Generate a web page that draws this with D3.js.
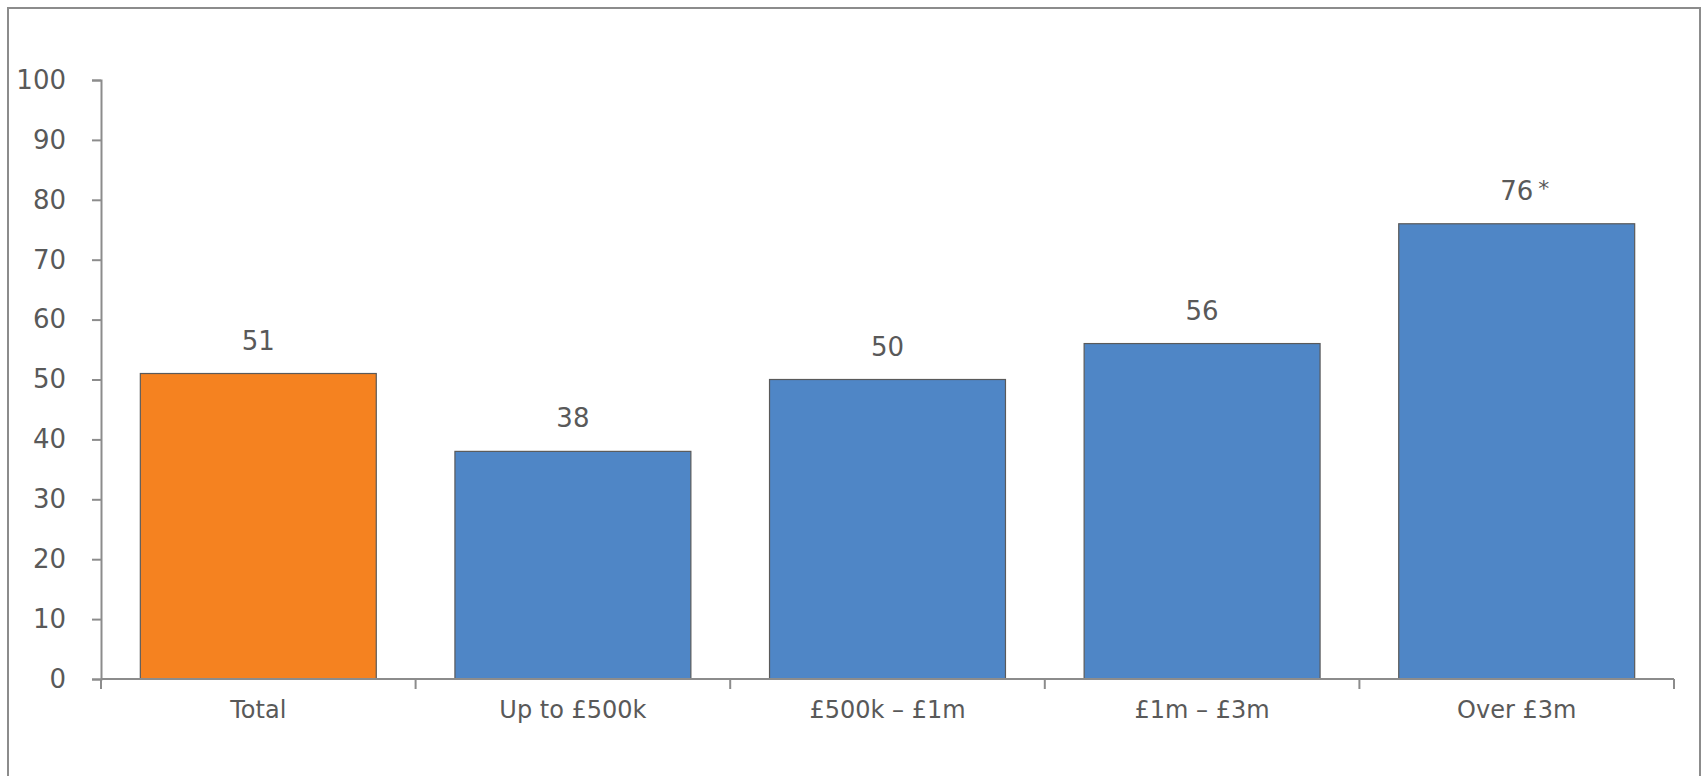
<!DOCTYPE html>
<html>
<head>
<meta charset="utf-8">
<script src="https://cdn.jsdelivr.net/npm/d3@7"></script>
<style>
  html, body { margin: 0; padding: 0; background: #fff; }
  svg { display: block; }
  text { font-family: "DejaVu Sans", sans-serif; fill: #595959; }
</style>
</head>
<body>
<svg id="chart" width="1703" height="776"></svg>
<script>
// Survey share by turnover band (%)
const categories = ["Total", "Up to £500k", "£500k – £1m", "£1m – £3m", "Over £3m"];
const values = [51, 38, 50, 56, 76];
const valueNotes = ["", "", "", "", "*"];
const barColors = ["#F58220", "#4F86C6", "#4F86C6", "#4F86C6", "#4F86C6"];
const yTicks = [0, 10, 20, 30, 40, 50, 60, 70, 80, 90, 100];

const svg = d3.select("#chart");

// outer frame
svg.append("rect")
  .attr("x", 8).attr("y", 8)
  .attr("width", 1692).attr("height", 800)
  .attr("fill", "none").attr("stroke", "#8c8c8c").attr("stroke-width", 2);

const x0 = 101, x1 = 1674, yBase = 679, yTop = 80;

const x = d3.scaleBand()
  .domain(categories)
  .range([x0, x1])
  .paddingInner(0.25)
  .paddingOuter(0.125);

const y = d3.scaleLinear().domain([0, 100]).range([yBase, yTop]);

// y axis
const yAxis = d3.axisLeft(y).tickValues(yTicks).tickSize(9).tickPadding(26).tickFormat(d3.format("d"));
const gy = svg.append("g").attr("transform", `translate(${x0},0)`).call(yAxis);
gy.select(".domain").attr("stroke", "#8c8c8c").attr("stroke-width", 2);
gy.selectAll(".tick line").attr("stroke", "#8c8c8c").attr("stroke-width", 2);
gy.selectAll(".tick text")
  .attr("font-size", 26).attr("fill", "#595959")
  .style("font-family", "'DejaVu Sans', sans-serif");

// bars
svg.append("g").selectAll("rect")
  .data(values)
  .join("rect")
  .attr("x", (d, i) => x(categories[i]))
  .attr("y", d => y(d))
  .attr("width", x.bandwidth())
  .attr("height", d => y(0) - y(d))
  .attr("fill", (d, i) => barColors[i])
  .attr("stroke", "#5a5a5a")
  .attr("stroke-width", 1.2);

// x axis with ticks on category boundaries
const step = x.step();
const boundaries = d3.range(categories.length + 1).map(i => x0 + i * step);
const gx = svg.append("g");
gx.append("line")
  .attr("x1", x0).attr("x2", x1).attr("y1", yBase).attr("y2", yBase)
  .attr("stroke", "#8c8c8c").attr("stroke-width", 2);
gx.selectAll("line.bt")
  .data(boundaries)
  .join("line")
  .attr("class", "bt")
  .attr("x1", d => d).attr("x2", d => d)
  .attr("y1", yBase).attr("y2", yBase + 10)
  .attr("stroke", "#8c8c8c").attr("stroke-width", 2);
gx.selectAll("text")
  .data(categories)
  .join("text")
  .attr("x", d => x(d) + x.bandwidth() / 2)
  .attr("y", 718)
  .attr("text-anchor", "middle")
  .attr("font-size", 24)
  .text(d => d);

// value labels (with optional footnote marker)
const lbl = svg.append("g").selectAll("text")
  .data(values)
  .join("text")
  .attr("x", (d, i) => x(categories[i]) + x.bandwidth() / 2 + (valueNotes[i] ? 8 : 0))
  .attr("y", d => y(d) - 24)
  .attr("text-anchor", "middle")
  .attr("font-size", 26);
lbl.append("tspan").text(d => d);
lbl.filter((d, i) => valueNotes[i])
  .append("tspan")
  .attr("dx", 5)
  .attr("dy", -4)
  .attr("font-size", 22)
  .text((d, i) => valueNotes[values.indexOf(d)]);
</script>
</body>
</html>
